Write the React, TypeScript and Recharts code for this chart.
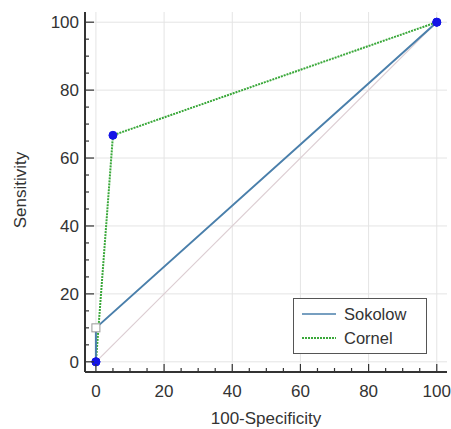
import { LineChart, Line, XAxis, YAxis, CartesianGrid } from 'recharts';

// ROC points (100-Specificity, Sensitivity)
const sokolowX = [0, 0, 100];
const sokolowY = [0, 10, 100];
const cornelX = [0, 5, 100];
const cornelY = [0, 66.7, 100];
const diagX = [0, 100];
const diagY = [0, 100];

const majorTicks = [0, 20, 40, 60, 80, 100];
const allTicks = [0, 5, 10, 15, 20, 25, 30, 35, 40, 45, 50, 55, 60, 65, 70, 75, 80, 85, 90, 95, 100];

const toRows = (xs: number[], ys: number[]) => xs.map((x, i) => ({ x, y: ys[i] }));
const sokolow = toRows(sokolowX, sokolowY);
const cornel = toRows(cornelX, cornelY);
const diag = toRows(diagX, diagY);

const SOKOLOW = '#4a7fab';
const CORNEL = '#3aa83a';
const DOT = '#1414e6';
const AXIS = '#333';
const FONT = 'Liberation Sans, Arial, sans-serif';

function XTick(props: any) {
  const { x, y, payload } = props;
  const major = payload.value % 20 === 0;
  return (
    <g>
      <line x1={x} x2={x} y1={y} y2={y - (major ? 8 : 4)} stroke={AXIS} strokeWidth={1.2} />
      {major && (
        <text x={x} y={y + 25} textAnchor="middle" fill="#333" fontSize={17} fontFamily={FONT}>
          {payload.value}
        </text>
      )}
    </g>
  );
}

function YTick(props: any) {
  const { x, y, payload } = props;
  const major = payload.value % 20 === 0;
  return (
    <g>
      <line x1={x} x2={x + (major ? 9 : 4)} y1={y} y2={y} stroke={AXIS} strokeWidth={1.2} />
      {major && (
        <text x={x - 6} y={y + 6} textAnchor="end" fill="#333" fontSize={17} fontFamily={FONT}>
          {payload.value}
        </text>
      )}
    </g>
  );
}

function dotFor(squareIndex: number) {
  return (p: any) => {
    const { cx, cy, index } = p;
    if (index === squareIndex) {
      return <rect key={`d${index}`} x={cx - 4} y={cy - 4} width={8} height={8} fill="#fff" stroke="#999" strokeWidth={1} />;
    }
    return <circle key={`d${index}`} cx={cx} cy={cy} r={4} fill={DOT} stroke={DOT} />;
  };
}

function LegendBox() {
  const item = (label: string, color: string, dash?: string) => (
    <div style={{ display: 'flex', alignItems: 'center', height: 24 }}>
      <svg width={34} height={6} style={{ marginRight: 8 }}>
        <line x1={0} x2={34} y1={3} y2={3} stroke={color} strokeWidth={dash ? 2 : 1.5} strokeDasharray={dash} />
      </svg>
      <span>{label}</span>
    </div>
  );
  return (
    <div
      style={{
        position: 'absolute',
        left: 293,
        top: 298,
        width: 134,
        height: 56,
        boxSizing: 'border-box',
        border: '1px solid #555',
        background: '#fff',
        padding: '3px 0 0 8px',
        fontFamily: FONT,
        fontSize: 16.5,
        color: '#333',
      }}
    >
      {item('Sokolow', SOKOLOW)}
      {item('Cornel', CORNEL, '2 1')}
    </div>
  );
}

export default function App() {
  return (
    <div style={{ position: 'absolute', left: 0, top: 0, width: 451, height: 429, background: '#fff' }}>
      <LineChart width={451} height={429} margin={{ top: 12, right: 4, bottom: 27, left: 25 }}>
        <CartesianGrid
          stroke="#e4e4e4"
          verticalValues={majorTicks}
          horizontalValues={majorTicks}
        />
        <XAxis
          type="number"
          dataKey="x"
          domain={[-3.2, 103]}
          ticks={allTicks}
          interval={0}
          height={30}
          tickSize={0}
          tickMargin={0}
          tickLine={false}
          tick={<XTick />}
          axisLine={{ stroke: AXIS, strokeWidth: 2 }}
          allowDataOverflow
        />
        <YAxis
          type="number"
          dataKey="y"
          domain={[-3, 103]}
          ticks={allTicks}
          interval={0}
          width={60}
          tickSize={0}
          tickMargin={0}
          tickLine={false}
          tick={<YTick />}
          axisLine={{ stroke: AXIS, strokeWidth: 2 }}
          allowDataOverflow
        />
        <Line data={diag} dataKey="y" stroke="#dccdd2" strokeWidth={1.2} dot={false} isAnimationActive={false} />
        <Line data={cornel} dataKey="y" name="Cornel" stroke={CORNEL} strokeWidth={2} strokeDasharray="2 1" dot={dotFor(-1)} isAnimationActive={false} />
        <Line data={sokolow} dataKey="y" name="Sokolow" stroke={SOKOLOW} strokeWidth={2} dot={dotFor(1)} isAnimationActive={false} />
        <text x={266} y={424} textAnchor="middle" fill="#333" fontSize={17} fontFamily={FONT}>
          100-Specificity
        </text>
        <text x={26} y={190} textAnchor="middle" fill="#333" fontSize={17} fontFamily={FONT} transform="rotate(-90 26 190)">
          Sensitivity
        </text>
      </LineChart>
      <LegendBox />
    </div>
  );
}
